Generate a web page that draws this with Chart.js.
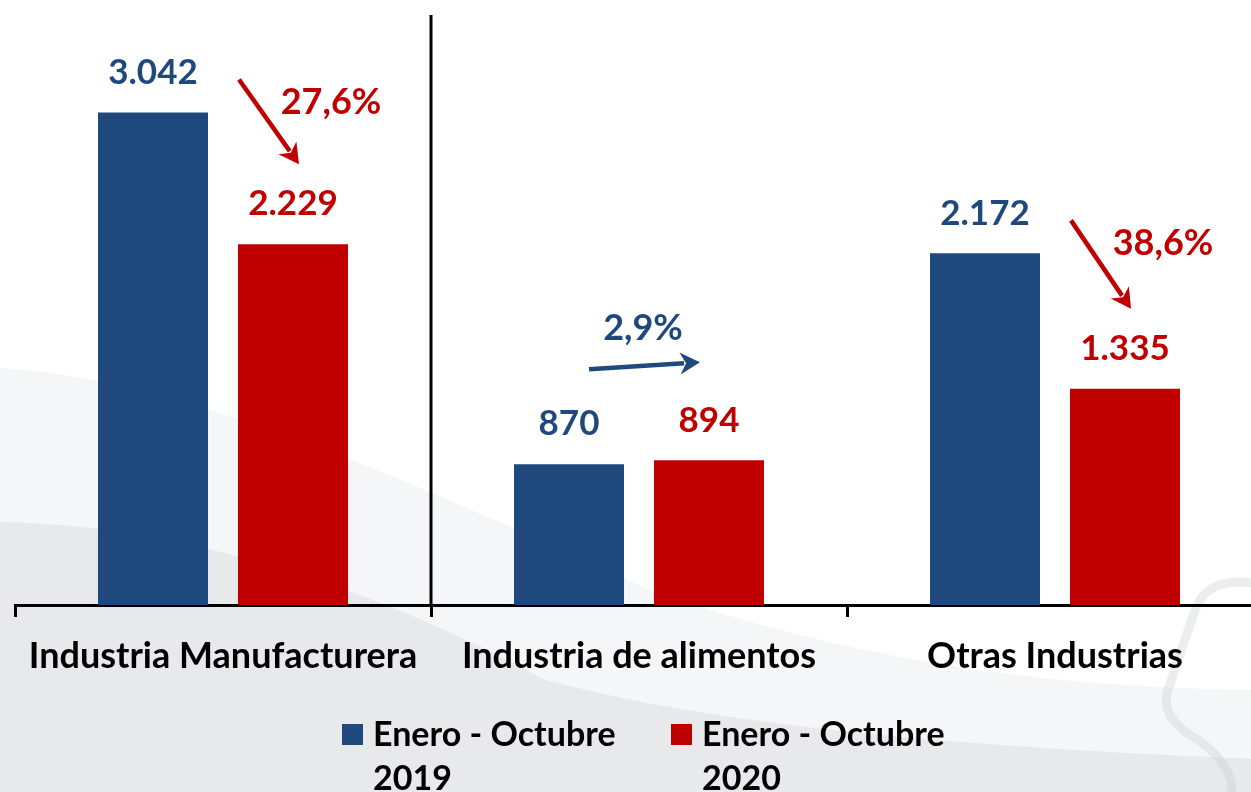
<!DOCTYPE html>
<html>
<head>
<meta charset="utf-8">
<script src="https://cdn.jsdelivr.net/npm/chart.js@4.4.1/dist/chart.umd.min.js"></script>
<style>
  html, body { margin: 0; padding: 0; background: #fff; overflow: hidden; }
  #wrap { width: 1251px; height: 792px; overflow: hidden; position: relative; }
  #grafico { position: absolute; left: 0; top: 0; }
</style>
</head>
<body>
<div id="wrap"><canvas id="grafico" width="1280" height="792"></canvas></div>
<script>
// datos
var categorias = ["Industria Manufacturera", "Industria de alimentos", "Otras Industrias"];
var series = ["Enero - Octubre 2019", "Enero - Octubre 2020"];
var valores2019 = [3042, 870, 2172];
var valores2020 = [2229, 894, 1335];
var variaciones = ["27,6%", "2,9%", "38,6%"];

var azul = "#1F497D";
var rojo = "#C00000";
var fuente = "Lato, 'Open Sans', sans-serif";

function formato(v) {
  return v.toString().replace(/\B(?=(\d{3})+(?!\d))/g, ".");
}

// fondo gris con curvas
var fondo = {
  id: "fondo",
  beforeDraw: function (chart) {
    var c = chart.ctx;
    c.save();
    c.fillStyle = "#ffffff";
    c.fillRect(0, 0, chart.width, chart.height);
    // banda clara
    c.fillStyle = "#F5F6F8";
    c.beginPath();
    c.moveTo(0, 368);
    c.bezierCurveTo(200, 380, 450, 500, 650, 590);
    c.bezierCurveTo(850, 660, 1050, 690, 1280, 690);
    c.lineTo(1280, 792);
    c.lineTo(0, 792);
    c.closePath();
    c.fill();
    // zona gris
    c.fillStyle = "#E8E9EB";
    c.beginPath();
    c.moveTo(0, 522);
    c.bezierCurveTo(200, 525, 400, 600, 545, 680);
    c.bezierCurveTo(700, 720, 900, 745, 1280, 760);
    c.lineTo(1280, 792);
    c.lineTo(0, 792);
    c.closePath();
    c.fill();
    // contorno tenue a la derecha
    c.strokeStyle = "rgba(200, 202, 207, 0.35)";
    c.lineWidth = 9;
    c.beginPath();
    c.moveTo(1280, 585);
    c.lineTo(1240, 582);
    c.quadraticCurveTo(1205, 582, 1195, 610);
    c.lineTo(1168, 690);
    c.quadraticCurveTo(1160, 715, 1190, 735);
    c.quadraticCurveTo(1232, 760, 1232, 792);
    c.stroke();
    c.restore();
  }
};

// linea vertical separadora
var separador = {
  id: "separador",
  afterDraw: function (chart) {
    var x = chart.scales.x;
    var px = (x.getPixelForTick(0) + x.getPixelForTick(1)) / 2;
    var c = chart.ctx;
    c.save();
    c.strokeStyle = "#000";
    c.lineWidth = 3;
    c.beginPath();
    c.moveTo(px, 15);
    c.lineTo(px, chart.chartArea.bottom);
    c.stroke();
    c.restore();
  }
};

// etiquetas de valores
var etiquetas = {
  id: "etiquetas",
  afterDatasetsDraw: function (chart) {
    var c = chart.ctx;
    c.save();
    c.font = "bold 35px " + fuente;
    c.textAlign = "center";
    c.textBaseline = "middle";
    chart.data.datasets.forEach(function (ds, d) {
      var meta = chart.getDatasetMeta(d);
      meta.data.forEach(function (bar, i) {
        c.fillStyle = ds.backgroundColor;
        c.fillText(formato(ds.data[i]), bar.x, bar.y - 40);
      });
    });
    c.restore();
  }
};

function flecha(c, x1, y1, x2, y2, color) {
  var ang = Math.atan2(y2 - y1, x2 - x1);
  var largo = 20, ancho = 11;
  var bx = x2 - largo * Math.cos(ang), by = y2 - largo * Math.sin(ang);
  c.strokeStyle = color;
  c.fillStyle = color;
  c.lineWidth = 4.5;
  c.beginPath();
  c.moveTo(x1, y1);
  c.lineTo(bx + 4 * Math.cos(ang), by + 4 * Math.sin(ang));
  c.stroke();
  c.beginPath();
  c.moveTo(x2, y2);
  c.lineTo(bx + ancho * Math.sin(ang), by - ancho * Math.cos(ang));
  c.lineTo(bx + 6 * Math.cos(ang), by + 6 * Math.sin(ang));
  c.lineTo(bx - ancho * Math.sin(ang), by + ancho * Math.cos(ang));
  c.closePath();
  c.fill();
}

// flechas y variaciones
var variacion = {
  id: "variacion",
  afterDatasetsDraw: function (chart) {
    var c = chart.ctx;
    var m0 = chart.getDatasetMeta(0), m1 = chart.getDatasetMeta(1);
    c.save();
    c.font = "bold 36px " + fuente;
    c.textAlign = "center";
    c.textBaseline = "middle";
    categorias.forEach(function (cat, i) {
      var b = m0.data[i], r = m1.data[i];
      if (valores2020[i] < valores2019[i]) {
        flecha(c, r.x - 54, b.y - 33, r.x + 6, r.y - 80, rojo);
        c.fillStyle = rojo;
        c.fillText(variaciones[i], r.x + 38, b.y - 10);
      } else {
        flecha(c, b.x + 20, b.y - 95, r.x - 9, r.y - 98, azul);
        c.fillStyle = azul;
        c.fillText(variaciones[i], (b.x + r.x) / 2 + 4, b.y - 136);
      }
    });
    c.restore();
  }
};

// leyenda en dos lineas
var leyenda = {
  id: "leyenda",
  afterDraw: function (chart) {
    var c = chart.ctx;
    var xs = [342, 671];
    c.save();
    c.font = "bold 34px " + fuente;
    c.textBaseline = "middle";
    c.textAlign = "left";
    chart.data.datasets.forEach(function (ds, d) {
      var x = xs[d];
      c.fillStyle = ds.backgroundColor;
      c.fillRect(x, 724, 21, 21);
      var t = ds.label;
      var corte = t.lastIndexOf(" ");
      c.fillStyle = "#000";
      c.fillText(t.substring(0, corte), x + 31, 735);
      c.fillText(t.substring(corte + 1), x + 31, 779);
    });
    c.restore();
  }
};

var ctx = document.getElementById("grafico").getContext("2d");
var grafico = new Chart(ctx, {
  type: "bar",
  data: {
    labels: categorias,
    datasets: [
      {
        label: series[0],
        data: valores2019,
        backgroundColor: azul,
        borderWidth: 0,
        categoryPercentage: 0.673,
        barPercentage: 0.786
      },
      {
        label: series[1],
        data: valores2020,
        backgroundColor: rojo,
        borderWidth: 0,
        categoryPercentage: 0.673,
        barPercentage: 0.786
      }
    ]
  },
  options: {
    responsive: false,
    animation: false,
    layout: {
      padding: { left: 15, right: 17, top: 6, bottom: 0 }
    },
    plugins: {
      legend: { display: false },
      tooltip: { enabled: false }
    },
    scales: {
      y: {
        display: false,
        min: 0,
        max: 3700
      },
      x: {
        afterFit: function (s) { s.height = 187; },
        border: { display: true, color: "#000", width: 3 },
        grid: {
          drawOnChartArea: false,
          drawTicks: true,
          tickLength: 12,
          color: "#000",
          lineWidth: 3,
          offset: true
        },
        ticks: {
          color: "#000",
          padding: 18,
          font: { family: fuente, size: 36, weight: "bold" }
        }
      }
    }
  },
  plugins: [fondo, separador, etiquetas, variacion, leyenda]
});
</script>
</body>
</html>
